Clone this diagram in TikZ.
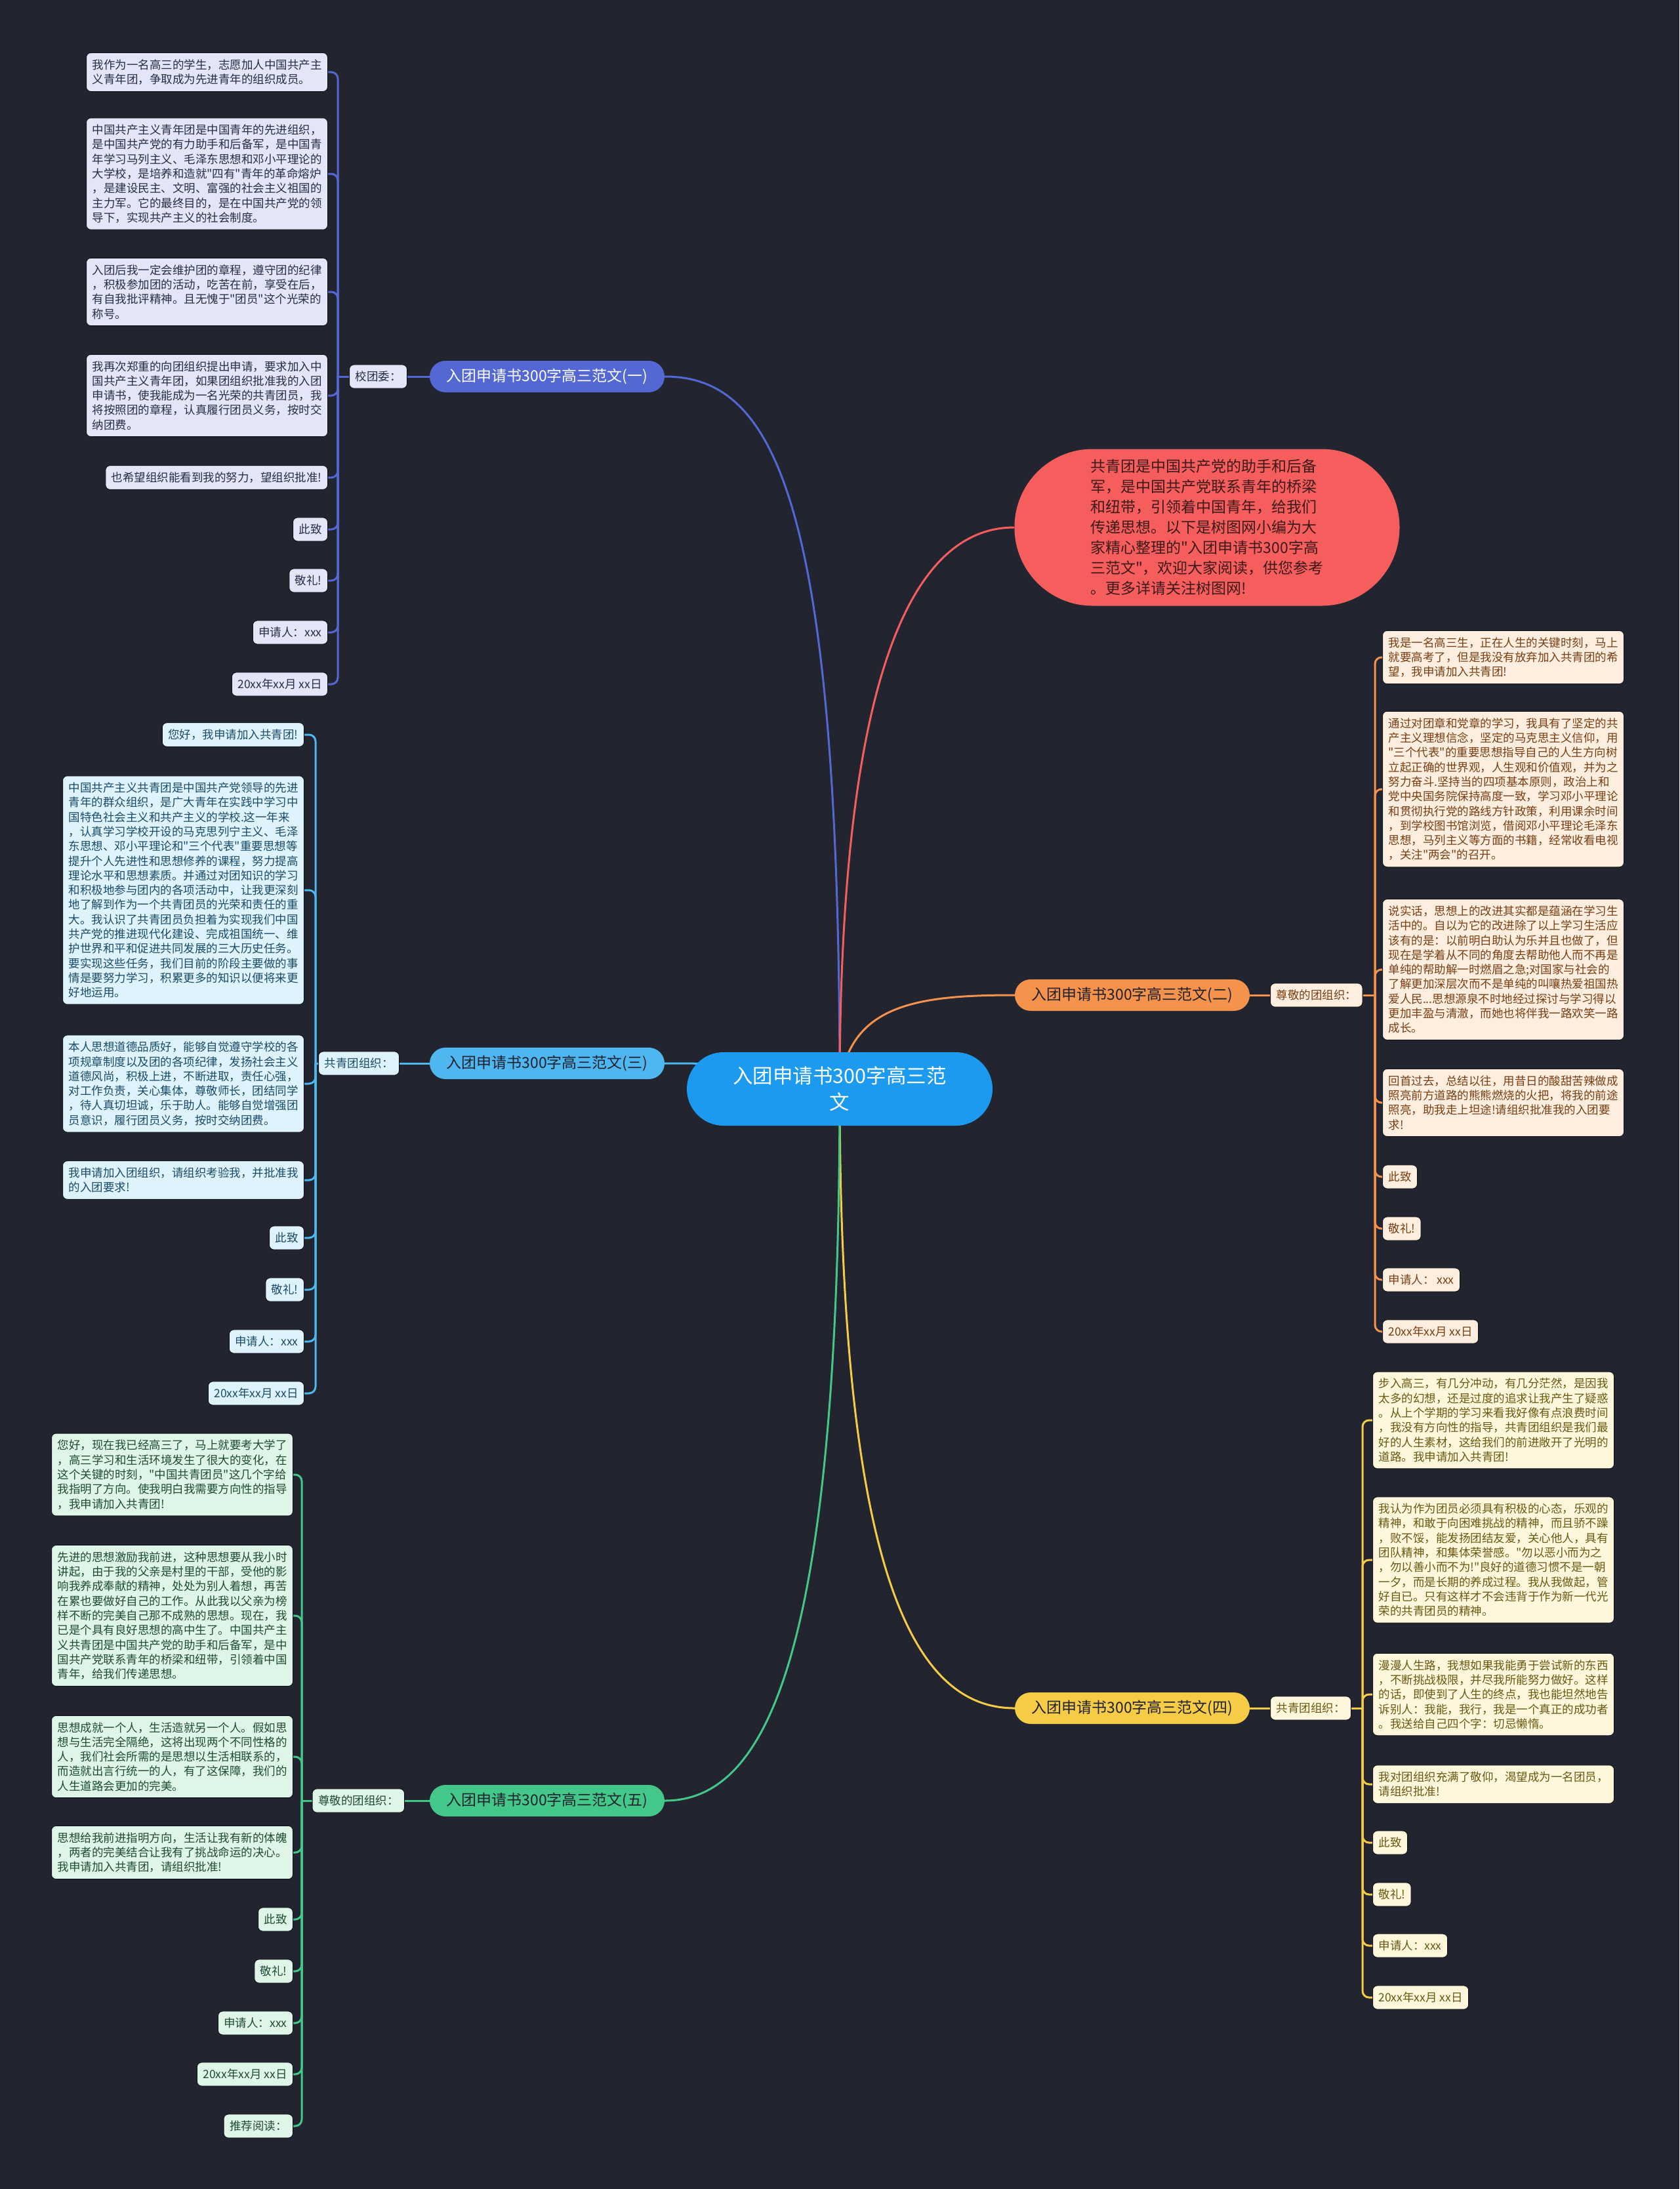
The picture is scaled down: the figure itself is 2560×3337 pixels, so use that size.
\documentclass[tikz,border=0pt]{standalone}
\usepackage{fontspec}
\setmainfont{Noto Sans CJK SC}[Ligatures=TeXOff]
\definecolor{bgc}{RGB}{34,37,48}
\definecolor{cenc}{RGB}{28,154,239}
\definecolor{redn}{RGB}{246,94,94}
\definecolor{redt}{RGB}{60,25,25}
\definecolor{pilltxt}{RGB}{30,33,45}
\definecolor{edgec}{RGB}{18,19,26}
\definecolor{colA}{RGB}{84,104,212}
\definecolor{fillA}{RGB}{227,230,247}
\definecolor{txtA}{RGB}{40,44,70}
\definecolor{colB}{RGB}{79,183,240}
\definecolor{fillB}{RGB}{222,243,252}
\definecolor{txtB}{RGB}{25,75,105}
\definecolor{colC}{RGB}{68,200,138}
\definecolor{fillC}{RGB}{222,245,232}
\definecolor{txtC}{RGB}{30,75,50}
\definecolor{colD}{RGB}{245,146,76}
\definecolor{fillD}{RGB}{253,238,224}
\definecolor{txtD}{RGB}{120,62,18}
\definecolor{colE}{RGB}{246,203,70}
\definecolor{fillE}{RGB}{254,247,220}
\definecolor{txtE}{RGB}{105,88,18}
\pgfdeclarelayer{bgl}
\pgfdeclarelayer{edges}
\pgfsetlayers{bgl,edges,main}
\newcommand{\leaffnt}{\fontsize{17.5}{22.3}\selectfont}
\tikzset{
  leaf/.style={rounded corners=7pt, inner xsep=9pt, inner ysep=10pt, align=left, font=\leaffnt, line width=1pt, draw=edgec},
  leafA/.style={leaf, fill=fillA, text=txtA},
  leafB/.style={leaf, fill=fillB, text=txtB},
  leafC/.style={leaf, fill=fillC, text=txtC},
  leafD/.style={leaf, fill=fillD, text=txtD},
  leafE/.style={leaf, fill=fillE, text=txtE},
  pill/.style={rounded corners=24pt, minimum width=358pt, minimum height=48pt, inner sep=0pt, font=\fontsize{23}{28}\selectfont, text=pilltxt},
  conn/.style={line width=3pt},
  hook/.style={line width=3pt, rounded corners=10pt},
}
\begin{document}
\begin{tikzpicture}[x=1pt,y=-1pt]
\useasboundingbox (0,0) rectangle (2560,3337);
\begin{pgfonlayer}{bgl}
\fill[bgc] (0,0) rectangle (2560,3337);
\end{pgfonlayer}

% central and main branches
\node[fill=cenc, rounded corners=56pt, minimum width=466pt, minimum height=112pt, text=white, align=center, font=\fontsize{30.5}{40}\selectfont] (c) at (1280,1660) {入团申请书300字高三范\\文};
\node[fill=redn, rounded corners=119pt, minimum width=587pt, minimum height=239pt, text=redt, align=left, font=\fontsize{23}{31}\selectfont] (intro) at (1840,804) {共青团是中国共产党的助手和后备\\军，是中国共产党联系青年的桥梁\\和纽带，引领着中国青年，给我们\\传递思想。以下是树图网小编为大\\家精心整理的"入团申请书300字高\\三范文"，欢迎大家阅读，供您参考\\。更多详请关注树图网!};
\node[pill, fill=colA, text=white] (b1) at (834,574) {入团申请书300字高三范文(一)};
\node[pill, fill=colB] (b3) at (834,1621) {入团申请书300字高三范文(三)};
\node[pill, fill=colC] (b5) at (834,2745) {入团申请书300字高三范文(五)};
\node[pill, fill=colD] (b2) at (1726,1517) {入团申请书300字高三范文(二)};
\node[pill, fill=colE] (b4) at (1726,2604) {入团申请书300字高三范文(四)};

% labels
\node[leafA, anchor=east] (l1) at (621,574) {校团委：};
\node[leafB, anchor=east] (l3) at (609,1621) {共青团组织：};
\node[leafC, anchor=east] (l5) at (617,2745) {尊敬的团组织：};
\node[leafD, anchor=west] (l2) at (1936,1517) {尊敬的团组织：};
\node[leafE, anchor=west] (l4) at (1936,2604) {共青团组织：};

\coordinate (t1) at (515,574);
\coordinate (t3) at (481,1621);
\coordinate (t5) at (460,2745);
\coordinate (t2) at (2096,1517);
\coordinate (t4) at (2077,2604);

% branch (一)
\node[leafA, anchor=east] (a1) at (500,110) {我作为一名高三的学生，志愿加人中国共产主\\义青年团，争取成为先进青年的组织成员。};
\node[leafA, anchor=east] (a2) at (500,265) {中国共产主义青年团是中国青年的先进组织，\\是中国共产党的有力助手和后备军，是中国青\\年学习马列主义、毛泽东思想和邓小平理论的\\大学校，是培养和造就"四有"青年的革命熔炉\\，是建设民主、文明、富强的社会主义祖国的\\主力军。它的最终目的，是在中国共产党的领\\导下，实现共产主义的社会制度。};
\node[leafA, anchor=east] (a3) at (500,445) {入团后我一定会维护团的章程，遵守团的纪律\\，积极参加团的活动，吃苦在前，享受在后，\\有自我批评精神。且无愧于"团员"这个光荣的\\称号。};
\node[leafA, anchor=east] (a4) at (500,603) {我再次郑重的向团组织提出申请，要求加入中\\国共产主义青年团，如果团组织批准我的入团\\申请书，使我能成为一名光荣的共青团员，我\\将按照团的章程，认真履行团员义务，按时交\\纳团费。};
\node[leafA, anchor=east] (a5) at (500,728) {也希望组织能看到我的努力，望组织批准!};
\node[leafA, anchor=east] (a6) at (500,807) {此致};
\node[leafA, anchor=east] (a7) at (500,885) {敬礼!};
\node[leafA, anchor=east] (a8) at (500,964) {申请人：xxx};
\node[leafA, anchor=east] (a9) at (500,1043) {20xx年xx月 xx日};

% branch (三)
\node[leafB, anchor=east] (s1) at (464,1120) {您好，我申请加入共青团!};
\node[leafB, anchor=east] (s2) at (464,1357) {中国共产主义共青团是中国共产党领导的先进\\青年的群众组织，是广大青年在实践中学习中\\国特色社会主义和共产主义的学校.这一年来\\，认真学习学校开设的马克思列宁主义、毛泽\\东思想、邓小平理论和"三个代表"重要思想等\\提升个人先进性和思想修养的课程，努力提高\\理论水平和思想素质。并通过对团知识的学习\\和积极地参与团内的各项活动中，让我更深刻\\地了解到作为一个共青团员的光荣和责任的重\\大。我认识了共青团员负担着为实现我们中国\\共产党的推进现代化建设、完成祖国统一、维\\护世界和平和促进共同发展的三大历史任务。\\要实现这些任务，我们目前的阶段主要做的事\\情是要努力学习，积累更多的知识以便将来更\\好地运用。};
\node[leafB, anchor=east] (s3) at (464,1652) {本人思想道德品质好，能够自觉遵守学校的各\\项规章制度以及团的各项纪律，发扬社会主义\\道德风尚，积极上进，不断进取，责任心强，\\对工作负责，关心集体，尊敬师长，团结同学\\，待人真切坦诚，乐于助人。能够自觉增强团\\员意识，履行团员义务，按时交纳团费。};
\node[leafB, anchor=east] (s4) at (464,1799) {我申请加入团组织，请组织考验我，并批准我\\的入团要求!};
\node[leafB, anchor=east] (s5) at (464,1887) {此致};
\node[leafB, anchor=east] (s6) at (464,1966) {敬礼!};
\node[leafB, anchor=east] (s7) at (464,2045) {申请人：xxx};
\node[leafB, anchor=east] (s8) at (464,2124) {20xx年xx月 xx日};

% branch (五)
\node[leafC, anchor=east] (g1) at (447,2248) {您好，现在我已经高三了，马上就要考大学了\\，高三学习和生活环境发生了很大的变化，在\\这个关键的时刻，"中国共青团员"这几个字给\\我指明了方向。使我明白我需要方向性的指导\\，我申请加入共青团!};
\node[leafC, anchor=east] (g2) at (447,2463) {先进的思想激励我前进，这种思想要从我小时\\讲起，由于我的父亲是村里的干部，受他的影\\响我养成奉献的精神，处处为别人着想，再苦\\在累也要做好自己的工作。从此我以父亲为榜\\样不断的完美自己那不成熟的思想。现在，我\\已是个具有良好思想的高中生了。中国共产主\\义共青团是中国共产党的助手和后备军，是中\\国共产党联系青年的桥梁和纽带，引领着中国\\青年，给我们传递思想。};
\node[leafC, anchor=east] (g3) at (447,2678) {思想成就一个人，生活造就另一个人。假如思\\想与生活完全隔绝，这将出现两个不同性格的\\人，我们社会所需的是思想以生活相联系的，\\而造就出言行统一的人，有了这保障，我们的\\人生道路会更加的完美。};
\node[leafC, anchor=east] (g4) at (447,2824) {思想给我前进指明方向，生活让我有新的体魄\\，两者的完美结合让我有了挑战命运的决心。\\我申请加入共青团，请组织批准!};
\node[leafC, anchor=east] (g5) at (447,2926) {此致};
\node[leafC, anchor=east] (g6) at (447,3005) {敬礼!};
\node[leafC, anchor=east] (g7) at (447,3084) {申请人：xxx};
\node[leafC, anchor=east] (g8) at (447,3162) {20xx年xx月 xx日};
\node[leafC, anchor=east] (g9) at (447,3241) {推荐阅读：};

% branch (二)
\node[leafD, anchor=west] (o1) at (2107,1002) {我是一名高三生，正在人生的关键时刻，马上\\就要高考了，但是我没有放弃加入共青团的希\\望，我申请加入共青团!};
\node[leafD, anchor=west] (o2) at (2107,1203) {通过对团章和党章的学习，我具有了坚定的共\\产主义理想信念，坚定的马克思主义信仰，用\\"三个代表"的重要思想指导自己的人生方向树\\立起正确的世界观，人生观和价值观，并为之\\努力奋斗.坚持当的四项基本原则，政治上和\\党中央国务院保持高度一致，学习邓小平理论\\和贯彻执行党的路线方针政策，利用课余时间\\，到学校图书馆浏览，借阅邓小平理论毛泽东\\思想，马列主义等方面的书籍，经常收看电视\\，关注"两会"的召开。};
\node[leafD, anchor=west] (o3) at (2107,1478) {说实话，思想上的改进其实都是蕴涵在学习生\\活中的。自以为它的改进除了以上学习生活应\\该有的是：以前明白助认为乐并且也做了，但\\现在是学着从不同的角度去帮助他人而不再是\\单纯的帮助解一时燃眉之急;对国家与社会的\\了解更加深层次而不是单纯的叫嚷热爱祖国热\\爱人民...思想源泉不时地经过探讨与学习得以\\更加丰盈与清澈，而她也将伴我一路欢笑一路\\成长。};
\node[leafD, anchor=west] (o4) at (2107,1681) {回首过去，总结以往，用昔日的酸甜苦辣做成\\照亮前方道路的熊熊燃烧的火把，将我的前途\\照亮，助我走上坦途!请组织批准我的入团要\\求!};
\node[leafD, anchor=west] (o5) at (2107,1794) {此致};
\node[leafD, anchor=west] (o6) at (2107,1873) {敬礼!};
\node[leafD, anchor=west] (o7) at (2107,1951) {申请人： xxx};
\node[leafD, anchor=west] (o8) at (2107,2030) {20xx年xx月 xx日};

% branch (四)
\node[leafE, anchor=west] (y1) at (2092,2165) {步入高三，有几分冲动，有几分茫然，是因我\\太多的幻想，还是过度的追求让我产生了疑惑\\。从上个学期的学习来看我好像有点浪费时间\\，我没有方向性的指导，共青团组织是我们最\\好的人生素材，这给我们的前进敞开了光明的\\道路。我申请加入共青团!};
\node[leafE, anchor=west] (y2) at (2092,2378) {我认为作为团员必须具有积极的心态，乐观的\\精神，和敢于向困难挑战的精神，而且骄不躁\\，败不馁，能发扬团结友爱，关心他人，具有\\团队精神，和集体荣誉感。"勿以恶小而为之\\，勿以善小而不为!"良好的道德习惯不是一朝\\一夕，而是长期的养成过程。我从我做起，管\\好自已。只有这样才不会违背于作为新一代光\\荣的共青团员的精神。};
\node[leafE, anchor=west] (y3) at (2092,2583) {漫漫人生路，我想如果我能勇于尝试新的东西\\，不断挑战极限，并尽我所能努力做好。这样\\的话，即使到了人生的终点，我也能坦然地告\\诉别人：我能，我行，我是一个真正的成功者\\。我送给自己四个字：切忌懒惰。};
\node[leafE, anchor=west] (y4) at (2092,2720) {我对团组织充满了敬仰，渴望成为一名团员，\\请组织批准!};
\node[leafE, anchor=west] (y5) at (2092,2809) {此致};
\node[leafE, anchor=west] (y6) at (2092,2888) {敬礼!};
\node[leafE, anchor=west] (y7) at (2092,2966) {申请人：xxx};
\node[leafE, anchor=west] (y8) at (2092,3045) {20xx年xx月 xx日};

\begin{pgfonlayer}{edges}
% main curves
\draw[conn, colA] (c.center) .. controls (1280,760) and (1180,574) .. (b1.east);
\draw[conn, redn] (c.center) .. controls (1280,950) and (1420,804) .. (intro.west);
\draw[conn, colD] (c.center) .. controls (1292,1530) and (1400,1517) .. (b2.west);
\draw[conn, colB] (c.center) .. controls (1150,1621) and (1100,1621) .. (b3.east);
\draw[conn, colE] (c.center) .. controls (1280,2420) and (1400,2604) .. (b4.west);
\draw[conn, colC] (c.center) .. controls (1280,2520) and (1170,2745) .. (b5.east);
% branch to label
\draw[conn, colA] (b1.west) -- (l1.east);
\draw[conn, colB] (b3.west) -- (l3.east);
\draw[conn, colC] (b5.west) -- (l5.east);
\draw[conn, colD] (b2.east) -- (l2.west);
\draw[conn, colE] (b4.east) -- (l4.west);
\draw[conn, colA] (l1.west) -- (t1);
\draw[conn, colB] (l3.west) -- (t3);
\draw[conn, colC] (l5.west) -- (t5);
\draw[conn, colD] (l2.east) -- (t2);
\draw[conn, colE] (l4.east) -- (t4);
% hooks
\foreach \i in {1,...,9} \draw[hook, colA] (t1) |- (a\i.east);
\foreach \i in {1,...,8} \draw[hook, colB] (t3) |- (s\i.east);
\foreach \i in {1,...,9} \draw[hook, colC] (t5) |- (g\i.east);
\foreach \i in {1,...,8} \draw[hook, colD] (t2) |- (o\i.west);
\foreach \i in {1,...,8} \draw[hook, colE] (t4) |- (y\i.west);
\end{pgfonlayer}
\end{tikzpicture}
\end{document}
